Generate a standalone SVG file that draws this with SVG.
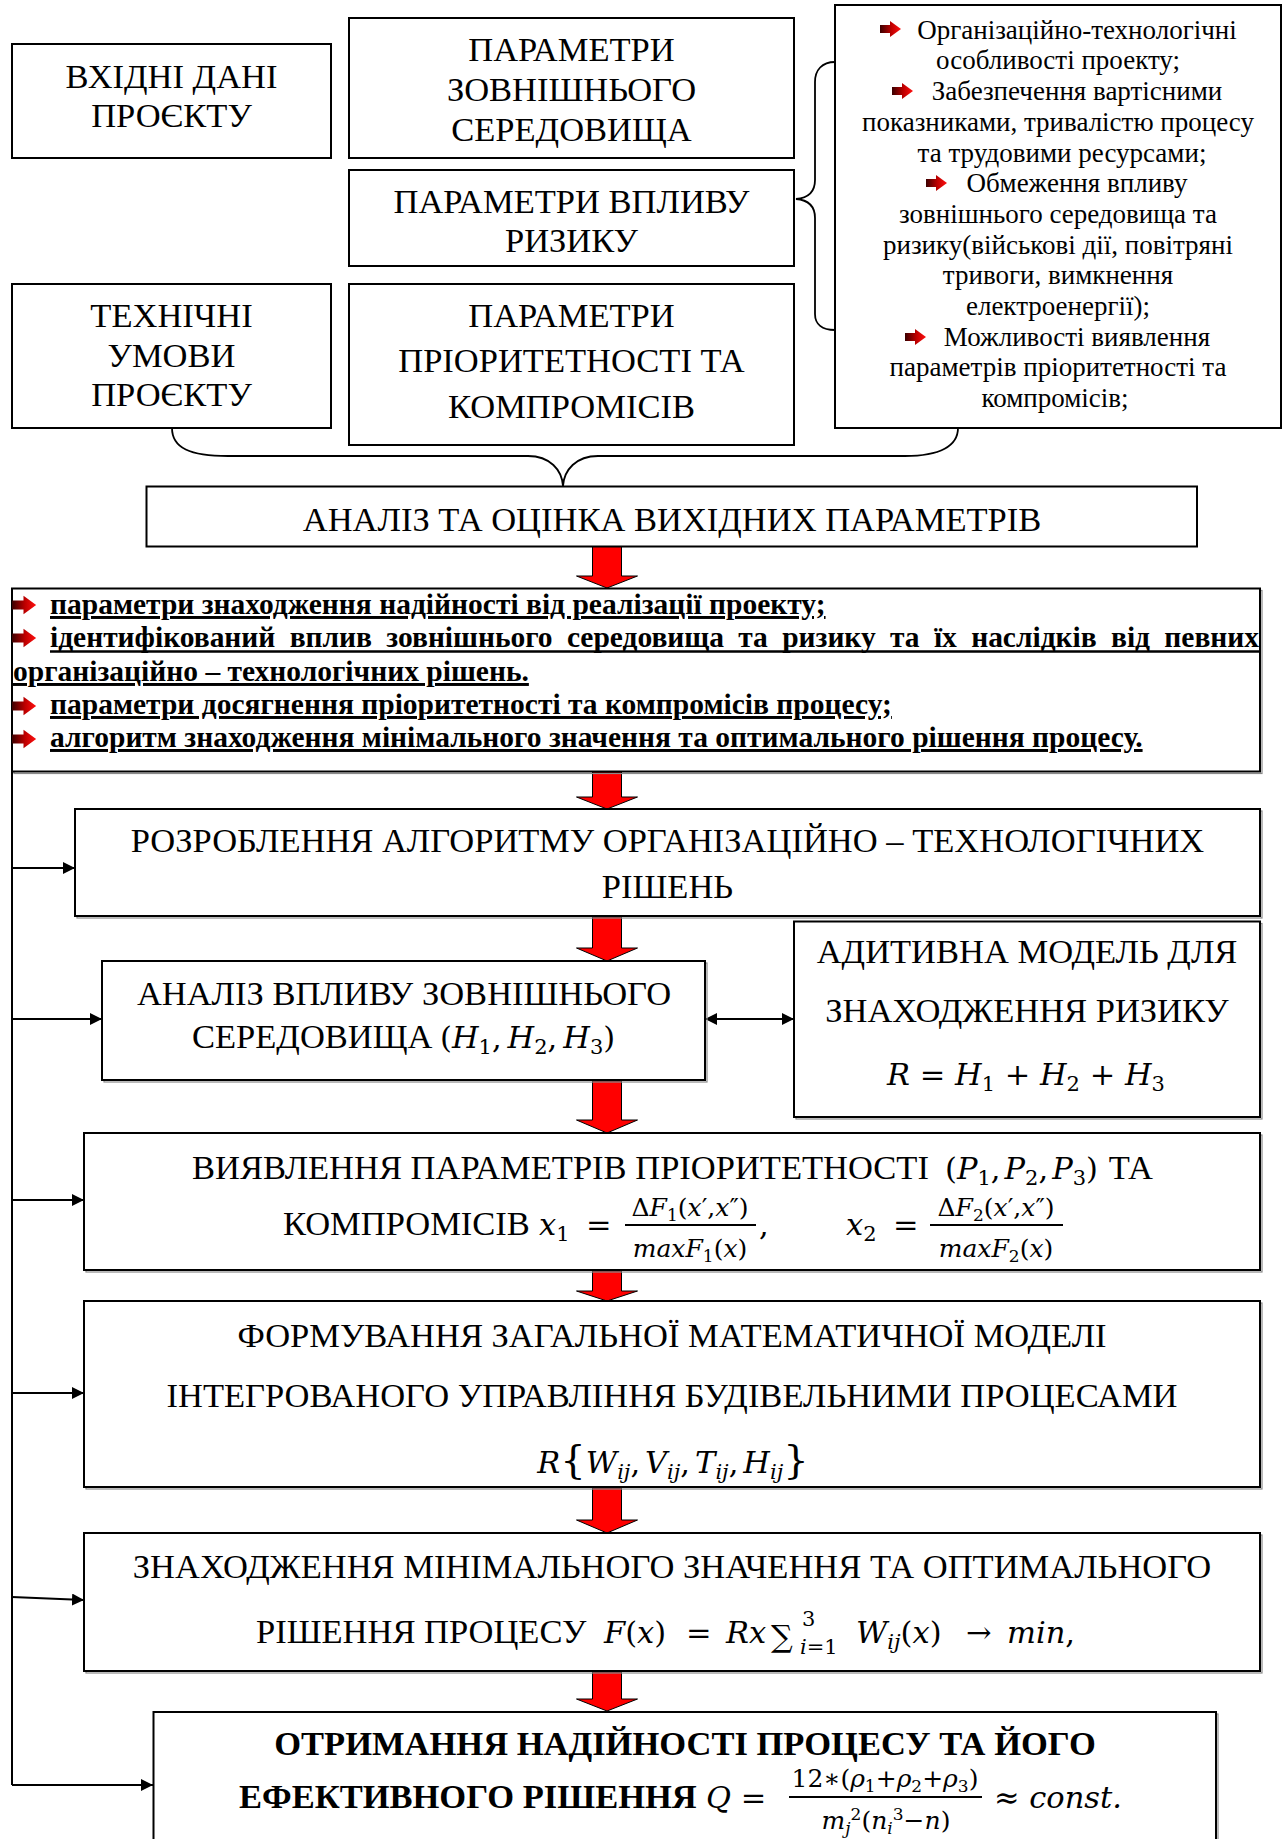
<svg xmlns="http://www.w3.org/2000/svg" width="1285" height="1839" viewBox="0 0 1285 1839">
<defs>
<style>
.box{fill:#fff;stroke:#000;stroke-width:2}
.sh{fill:none;stroke:#8a8a8a;stroke-width:1.2}
.t{font-family:"Liberation Serif","Times New Roman",serif;font-size:34.5px;fill:#000}
.c{text-anchor:middle}
.e{text-anchor:end}
.b{font-weight:bold}
.f{font-size:27px}
.h{font-size:29.5px;font-weight:bold}
.m{font-family:"DejaVu Serif",serif;font-style:italic;font-size:30.5px;fill:#000}
.mu{font-style:normal}
.s{font-size:21px}
.fr{font-size:25px}
.fs{font-size:17px}
.con{fill:none;stroke:#000;stroke-width:2}
.brace{fill:none;stroke:#000;stroke-width:1.8}
.red{fill:#ff0000;stroke:#000;stroke-width:1}
.ul{stroke:#000;stroke-width:2.5}
.bar{stroke:#000;stroke-width:2}
</style>
<linearGradient id="bg" x1="0" y1="0" x2="1" y2="0">
<stop offset="0" stop-color="#3a0000"/>
<stop offset="0.55" stop-color="#c00000"/>
<stop offset="1" stop-color="#ff1010"/>
</linearGradient>
<marker id="ah" viewBox="0 0 12 12" markerWidth="12" markerHeight="12" refX="12" refY="6" orient="auto" markerUnits="userSpaceOnUse">
<path d="M0,0 L12,6 L0,12 z" fill="#000"/>
</marker>
<marker id="as" viewBox="0 0 12 12" markerWidth="12" markerHeight="12" refX="12" refY="6" orient="auto-start-reverse" markerUnits="userSpaceOnUse">
<path d="M0,0 L12,6 L0,12 z" fill="#000"/>
</marker>
<path id="bul" d="M0,-4 L10,-4 L10,-8 L21,0 L10,8 L10,4 L0,4 z" fill="url(#bg)"/>
</defs>
<rect width="1285" height="1839" fill="#fff"/>

<g id="connectors">
<path class="brace" d="M835,62 C822,62 815,70 815,82 L815,180 C815,192 808,198 796,199 C808,200 815,206 815,218 L815,314 C815,324 822,330 835,330"/>
<path class="brace" d="M172,428 C172,448 190,456 228,456 L528,456 C550,456 562,470 563,486 C564,470 576,456 598,456 L905,456 C940,456 958,446 958,428"/>
<polygon class="red" points="592.5,546 621.5,546 621.5,576 637.5,576 607,588 576.5,576 592.5,576"/>
<polygon class="red" points="592.5,772 621.5,772 621.5,797 637.5,797 607,809 576.5,797 592.5,797"/>
<polygon class="red" points="592.5,917 621.5,917 621.5,948 637.5,948 607,961 576.5,948 592.5,948"/>
<polygon class="red" points="592.5,1081 621.5,1081 621.5,1120 637.5,1120 607,1133 576.5,1120 592.5,1120"/>
<polygon class="red" points="592.5,1271 621.5,1271 621.5,1291 637.5,1291 607,1301 576.5,1291 592.5,1291"/>
<polygon class="red" points="592.5,1488 621.5,1488 621.5,1520 637.5,1520 607,1533 576.5,1520 592.5,1520"/>
<polygon class="red" points="592.5,1672 621.5,1672 621.5,1699 637.5,1699 607,1711 576.5,1699 592.5,1699"/>
<path class="con" d="M12,771 L12,1785"/>
<path class="con" marker-end="url(#ah)" d="M12,868 L75,868"/>
<path class="con" marker-end="url(#ah)" d="M12,1019 L102,1019"/>
<path class="con" marker-end="url(#ah)" d="M12,1200 L84,1200"/>
<path class="con" marker-end="url(#ah)" d="M12,1393 L84,1393"/>
<path class="con" marker-end="url(#ah)" d="M12,1597 L84,1600"/>
<path class="con" marker-end="url(#ah)" d="M12,1785 L153,1785"/>
<path class="con" marker-start="url(#as)" marker-end="url(#as)" d="M705,1019 L794,1019"/>
</g>

<g id="n-input">
<rect class="box" x="12" y="44" width="319" height="114"/>
<text class="t c" x="171.5" y="87.5">ВХІДНІ ДАНІ</text>
<text class="t c" x="171.5" y="127">ПРОЄКТУ</text>
</g>
<g id="n-env">
<rect class="box" x="349" y="18" width="445" height="140"/>
<text class="t c" x="571.5" y="61">ПАРАМЕТРИ</text>
<text class="t c" x="571.5" y="101">ЗОВНІШНЬОГО</text>
<text class="t c" x="571.5" y="141">СЕРЕДОВИЩА</text>
</g>
<g id="n-risk">
<rect class="box" x="349" y="170" width="445" height="96"/>
<text class="t c" x="571.5" y="212.5">ПАРАМЕТРИ ВПЛИВУ</text>
<text class="t c" x="571.5" y="252">РИЗИКУ</text>
</g>
<g id="n-tech">
<rect class="box" x="12" y="284" width="319" height="144"/>
<text class="t c" x="171.5" y="327">ТЕХНІЧНІ</text>
<text class="t c" x="171.5" y="367">УМОВИ</text>
<text class="t c" x="171.5" y="406">ПРОЄКТУ</text>
</g>
<g id="n-prio">
<rect class="box" x="349" y="284" width="445" height="161"/>
<text class="t c" x="571.5" y="327">ПАРАМЕТРИ</text>
<text class="t c" x="571.5" y="371.5">ПРІОРИТЕТНОСТІ ТА</text>
<text class="t c" x="571.5" y="418">КОМПРОМІСІВ</text>
</g>
<g id="n-list">
<rect class="box" x="835" y="5" width="446" height="423"/>
<use href="#bul" x="880" y="29"/>
<use href="#bul" x="892" y="91"/>
<use href="#bul" x="926" y="183"/>
<use href="#bul" x="905" y="337"/>
<text class="t f c" x="1077" y="38.7">Організаційно-технологічні</text>
<text class="t f c" x="1058" y="69.4">особливості проекту;</text>
<text class="t f c" x="1077" y="100">Забезпечення вартісними</text>
<text class="t f c" x="1058" y="130.8">показниками, тривалістю процесу</text>
<text class="t f c" x="1062" y="161.5">та трудовими ресурсами;</text>
<text class="t f c" x="1077" y="192">Обмеження впливу</text>
<text class="t f c" x="1058" y="223">зовнішнього середовища та</text>
<text class="t f c" x="1058" y="253.5">ризику(військові дії, повітряні</text>
<text class="t f c" x="1058" y="284">тривоги, вимкнення</text>
<text class="t f c" x="1058" y="315">електроенергії);</text>
<text class="t f c" x="1077" y="345.6">Можливості виявлення</text>
<text class="t f c" x="1058" y="376">параметрів пріоритетності та</text>
<text class="t f c" x="1055" y="407">компромісів;</text>
</g>
<g id="n-analysis">
<rect class="box" x="146.5" y="486.5" width="1050.5" height="60"/>
<text class="t c" x="672" y="531">АНАЛІЗ ТА ОЦІНКА ВИХІДНИХ ПАРАМЕТРІВ</text>
</g>
<g id="n-results">
<rect class="sh" x="14" y="590.5" width="1248" height="183"/>
<rect class="box" x="12" y="588.5" width="1248" height="183"/>
<use href="#bul" transform="translate(12,605) scale(1.15)"/>
<use href="#bul" transform="translate(12,638) scale(1.15)"/>
<use href="#bul" transform="translate(12,706) scale(1.15)"/>
<use href="#bul" transform="translate(12,739) scale(1.15)"/>
<text class="t h" x="50" y="614" text-decoration="underline">параметри знаходження надійності від реалізації проекту;</text>
<text class="t h" x="50" y="647" word-spacing="7" textLength="1209" lengthAdjust="spacing">ідентифікований вплив зовнішнього середовища та ризику та їх наслідків від певних</text>
<line class="ul" x1="50" y1="651.5" x2="1260" y2="651.5"/>
<text class="t h" x="13" y="681" text-decoration="underline">організаційно – технологічних рішень.</text>
<text class="t h" x="50" y="714" text-decoration="underline">параметри досягнення пріоритетності та компромісів процесу;</text>
<text class="t h" x="50" y="747" text-decoration="underline">алгоритм знаходження мінімального значення та оптимального рішення процесу.</text>
</g>
<g id="n-algorithm">
<rect class="sh" x="77" y="811" width="1185" height="107"/>
<rect class="box" x="75" y="809" width="1185" height="107"/>
<text class="t c" x="667.5" y="852">РОЗРОБЛЕННЯ АЛГОРИТМУ ОРГАНІЗАЦІЙНО – ТЕХНОЛОГІЧНИХ</text>
<text class="t c" x="667.5" y="898">РІШЕНЬ</text>
</g>
<g id="n-envimpact">
<rect class="sh" x="104" y="963" width="603" height="119"/>
<rect class="box" x="102" y="961" width="603" height="119"/>
<text class="t c" x="404" y="1005">АНАЛІЗ ВПЛИВУ ЗОВНІШНЬОГО</text>
<text class="t" x="192" y="1048">СЕРЕДОВИЩА</text>
<text class="m" x="440" y="1048"><tspan class="mu">(</tspan>H<tspan class="s mu" dy="6">1</tspan><tspan class="mu" dy="-6">,</tspan><tspan dx="6">H</tspan><tspan class="s mu" dy="6">2</tspan><tspan class="mu" dy="-6">,</tspan><tspan dx="6">H</tspan><tspan class="s mu" dy="6">3</tspan><tspan class="mu" dy="-6">)</tspan></text>
</g>
<g id="n-additive">
<rect class="sh" x="796" y="923.5" width="466" height="195.5"/>
<rect class="box" x="794" y="921.5" width="466" height="195.5"/>
<text class="t c" x="1027" y="963">АДИТИВНА МОДЕЛЬ ДЛЯ</text>
<text class="t c" x="1027" y="1022">ЗНАХОДЖЕННЯ РИЗИКУ</text>
<text class="m c" x="1026" y="1085">R <tspan class="mu">=</tspan> H<tspan class="s mu" dy="6">1</tspan><tspan class="mu" dy="-6"> + </tspan>H<tspan class="s mu" dy="6">2</tspan><tspan class="mu" dy="-6"> + </tspan>H<tspan class="s mu" dy="6">3</tspan></text>
</g>
<g id="n-priority">
<rect class="sh" x="86" y="1135" width="1176" height="137"/>
<rect class="box" x="84" y="1133" width="1176" height="137"/>
<text class="t" x="192" y="1179">ВИЯВЛЕННЯ ПАРАМЕТРІВ ПРІОРИТЕТНОСТІ</text>
<text class="m" x="945" y="1179"><tspan class="mu">(</tspan>P<tspan class="s mu" dy="6">1</tspan><tspan class="mu" dy="-6">,</tspan><tspan dx="4">P</tspan><tspan class="s mu" dy="6">2</tspan><tspan class="mu" dy="-6">,</tspan><tspan dx="4">P</tspan><tspan class="s mu" dy="6">3</tspan><tspan class="mu" dy="-6">)</tspan></text>
<text class="t e" x="1153" y="1179">ТА</text>
<text class="t" x="283" y="1235">КОМПРОМІСІВ</text>
<text class="m" x="539" y="1235">x<tspan class="s mu" dy="6">1</tspan></text>
<text class="m mu" x="586" y="1235">=</text>
<text class="m fr c" x="690" y="1216"><tspan class="mu">Δ</tspan>F<tspan class="fs mu" dy="5">1</tspan><tspan class="mu" dy="-5">(</tspan>x<tspan class="mu">′,</tspan>x<tspan class="mu">″)</tspan></text>
<line class="bar" x1="625" y1="1225" x2="756" y2="1225"/>
<text class="m fr c" x="690" y="1257">maxF<tspan class="fs mu" dy="5">1</tspan><tspan class="mu" dy="-5">(</tspan>x<tspan class="mu">)</tspan></text>
<text class="m mu" x="759" y="1235">,</text>
<text class="m" x="846" y="1235">x<tspan class="s mu" dy="6">2</tspan></text>
<text class="m mu" x="893" y="1235">=</text>
<text class="m fr c" x="996" y="1216"><tspan class="mu">Δ</tspan>F<tspan class="fs mu" dy="5">2</tspan><tspan class="mu" dy="-5">(</tspan>x<tspan class="mu">′,</tspan>x<tspan class="mu">″)</tspan></text>
<line class="bar" x1="930" y1="1225" x2="1063" y2="1225"/>
<text class="m fr c" x="996" y="1257">maxF<tspan class="fs mu" dy="5">2</tspan><tspan class="mu" dy="-5">(</tspan>x<tspan class="mu">)</tspan></text>
</g>
<g id="n-model">
<rect class="sh" x="86" y="1303" width="1176" height="186"/>
<rect class="box" x="84" y="1301" width="1176" height="186"/>
<text class="t c" x="672" y="1347">ФОРМУВАННЯ ЗАГАЛЬНОЇ МАТЕМАТИЧНОЇ МОДЕЛІ</text>
<text class="t c" x="672" y="1407">ІНТЕГРОВАНОГО УПРАВЛІННЯ БУДІВЕЛЬНИМИ ПРОЦЕСАМИ</text>
<text class="m c" x="673" y="1473">R<tspan class="mu" font-size="40">{</tspan>W<tspan class="s" dy="6">ij</tspan><tspan class="mu" dy="-6">,</tspan><tspan dx="5">V</tspan><tspan class="s" dy="6">ij</tspan><tspan class="mu" dy="-6">,</tspan><tspan dx="5">T</tspan><tspan class="s" dy="6">ij</tspan><tspan class="mu" dy="-6">,</tspan><tspan dx="5">H</tspan><tspan class="s" dy="6">ij</tspan><tspan class="mu" dy="-6" font-size="40">}</tspan></text>
</g>
<g id="n-optimum">
<rect class="sh" x="86" y="1535" width="1176" height="138"/>
<rect class="box" x="84" y="1533" width="1176" height="138"/>
<text class="t c" x="672" y="1578">ЗНАХОДЖЕННЯ МІНІМАЛЬНОГО ЗНАЧЕННЯ ТА ОПТИМАЛЬНОГО</text>
<text class="t" x="256" y="1643">РІШЕННЯ ПРОЦЕСУ</text>
<text class="m" x="604" y="1643">F<tspan class="mu">(</tspan>x<tspan class="mu">)</tspan></text>
<text class="m mu" x="686" y="1643">=</text>
<text class="m" x="726" y="1643">Rx</text>
<text class="m mu" x="771" y="1647" font-size="38">∑</text>
<text class="m s mu" x="802" y="1626">3</text>
<text class="m s" x="800" y="1654">i<tspan class="mu">=1</tspan></text>
<text class="m" x="856" y="1643">W<tspan class="s" dy="6">ij</tspan><tspan class="mu" dy="-6">(</tspan>x<tspan class="mu">)</tspan></text>
<text class="m mu" x="966" y="1643">→</text>
<text class="m" x="1007" y="1643">min<tspan class="mu">,</tspan></text>
</g>
<g id="n-result">
<rect class="sh" x="155.5" y="1714" width="1062.5" height="150"/>
<rect class="box" x="153.5" y="1712" width="1062.5" height="150"/>
<text class="t b c" x="685" y="1755">ОТРИМАННЯ НАДІЙНОСТІ ПРОЦЕСУ ТА ЙОГО</text>
<text class="t b" x="239" y="1808">ЕФЕКТИВНОГО РІШЕННЯ</text>
<text class="m" x="706" y="1808">Q <tspan class="mu">=</tspan></text>
<text class="m fr mu c" x="885" y="1787">12∗(<tspan font-style="italic">ρ</tspan><tspan class="fs" dy="5">1</tspan><tspan dy="-5">+</tspan><tspan font-style="italic">ρ</tspan><tspan class="fs" dy="5">2</tspan><tspan dy="-5">+</tspan><tspan font-style="italic">ρ</tspan><tspan class="fs" dy="5">3</tspan><tspan dy="-5">)</tspan></text>
<line class="bar" x1="789" y1="1797" x2="982" y2="1797"/>
<text class="m fr c" x="886" y="1829">m<tspan class="fs" dy="5">j</tspan><tspan class="fs mu" dy="-14">2</tspan><tspan class="mu" dy="9">(</tspan>n<tspan class="fs" dy="5">i</tspan><tspan class="fs mu" dy="-14">3</tspan><tspan class="mu" dy="9">−</tspan>n<tspan class="mu">)</tspan></text>
<text class="m" x="994" y="1808"><tspan class="mu">≈ </tspan>const.</text>
</g>
</svg>
